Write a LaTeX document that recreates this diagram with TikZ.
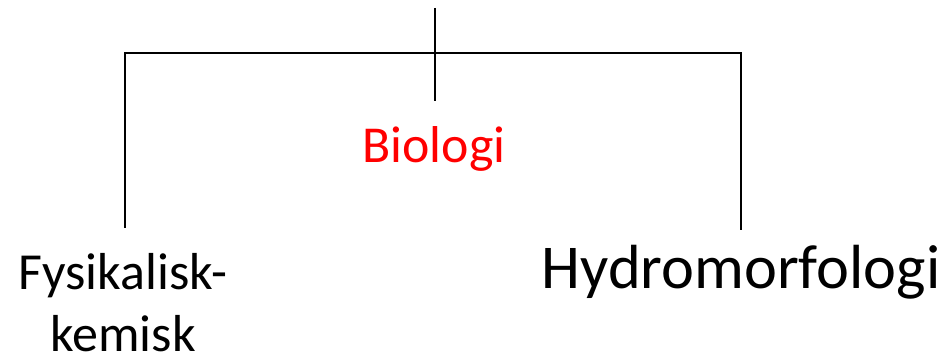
\documentclass[tikz,border=0pt]{standalone}
\usepackage{fontspec}
\setmainfont{Carlito}
\usetikzlibrary{positioning}

\tikzset{
  label/.style={inner sep=0pt, anchor=base, align=center},
  branch/.style={line width=1.1pt, black}
}

\begin{document}
\begin{tikzpicture}[x=0.02cm, y=-0.02cm]
    \useasboundingbox (0,0) rectangle (948,361);

    % Texts
    \node[label, text=red, font=\fontsize{29.5}{35}\selectfont] (bio) at (434,163) {Biologi};
    \node[label, text depth=0pt, font=\fontsize{29.6}{35.8}\selectfont] (fys) at (123,352) {Fysikalisk-\\kemisk};
    \node[label, font=\fontsize{35.5}{40}\selectfont] (hyd) at (741,289) {Hydromorfologi};

    % Connector ends
    \coordinate (top) at (435,8);
    \coordinate (stem) at (435,101);
    \coordinate (bar) at (435,53);
    \coordinate (lend) at (125,228);
    \coordinate (rend) at (741,230);

    % Tree
    \draw[branch] (top) -- (stem);
    \draw[branch] (lend) |- (bar) -| (rend);

\end{tikzpicture}
\end{document}
